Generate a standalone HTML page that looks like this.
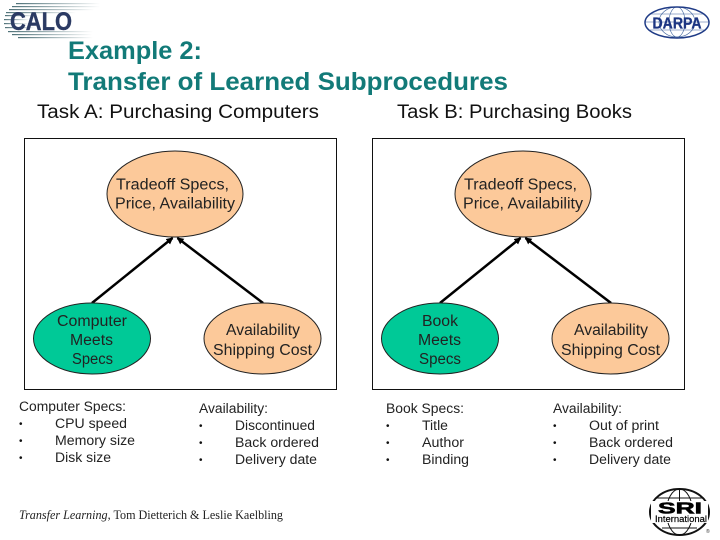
<!DOCTYPE html>
<html><head><meta charset="utf-8"><style>html,body{margin:0;padding:0;background:#fff}svg{display:block}text{font-family:"Liberation Sans",sans-serif;fill:#111}.n{font-size:15.5px;fill:#222}.l{font-size:13.5px;fill:#222}.b{font-size:10px;fill:#111}.m{text-anchor:middle}</style></head><body>
<svg width="720" height="540" viewBox="0 0 720 540" xmlns="http://www.w3.org/2000/svg">
<defs>
<linearGradient id="g"><stop offset="0" stop-color="#4f7178"/><stop offset="1" stop-color="#fff"/></linearGradient>
<marker id="a" markerWidth="7" markerHeight="7" refX="6" refY="3.500" orient="auto" markerUnits="userSpaceOnUse"><path d="M0,0L7,3.500L0,7Z" fill="#000"/></marker>
</defs>
<g fill="url(#g)">
<rect x="16" y="3" width="84" height="1.200"/><rect x="12" y="6" width="88" height="1.200"/><rect x="9" y="9" width="85" height="1.200"/><rect x="6" y="12" width="70" height="1.200"/>
<rect x="5" y="15" width="30" height="1.200"/><rect x="4" y="19" width="25" height="1.200"/><rect x="4" y="23" width="25" height="1.200"/><rect x="5" y="27" width="30" height="1.200"/>
<rect x="8" y="31" width="85" height="1.200"/><rect x="12" y="34" width="80" height="1.200"/><rect x="18" y="37" width="75" height="1.200"/>
</g>
<text x="10" y="30" font-size="25" font-weight="bold" textLength="62" lengthAdjust="spacingAndGlyphs" style="fill:#2b3a63;stroke:#2b3a63;stroke-width:.4">CALO</text>

<g fill="none" stroke="#3a5f9a" stroke-width=".6"><ellipse cx="677" cy="22" rx="18" ry="15"/><ellipse cx="677" cy="22" rx="8" ry="15"/><path d="M645 22H709M650 14H704M650 30H704"/></g>
<ellipse cx="677" cy="22.500" rx="32" ry="15.500" fill="none" stroke="#1f3b86" stroke-width="1.500"/>
<text x="677" y="28.500" class="m" font-size="16" font-weight="bold" textLength="49" lengthAdjust="spacingAndGlyphs" style="fill:#1c3582;stroke:#1c3582;stroke-width:.3">DARPA</text>

<text x="68" y="59" font-size="25" font-weight="bold" textLength="134" lengthAdjust="spacingAndGlyphs" style="fill:#127a78">Example 2:</text>
<text x="68" y="90" font-size="25" font-weight="bold" textLength="440" lengthAdjust="spacingAndGlyphs" style="fill:#127a78">Transfer of Learned Subprocedures</text>
<text x="37" y="118" font-size="19" textLength="282" lengthAdjust="spacingAndGlyphs">Task A:  Purchasing Computers</text>
<text x="397" y="118" font-size="19" textLength="235" lengthAdjust="spacingAndGlyphs">Task B: Purchasing Books</text>

<rect x="24.500" y="138.500" width="312" height="251" fill="#fff" stroke="#111" stroke-width="1"/>
<rect x="372.500" y="138.500" width="312" height="251" fill="#fff" stroke="#111" stroke-width="1"/>

<g stroke="#000" stroke-width="2.500" marker-end="url(#a)">
<path d="M92 303L172.500 238"/><path d="M263 303L177.500 238"/>
<path d="M440 303L520.500 238"/><path d="M611 303L525.500 238"/>
</g>

<g stroke="#222" stroke-width="1">
<ellipse cx="175" cy="194" rx="68" ry="43" fill="#fcc99a"/>
<ellipse cx="523" cy="194" rx="68" ry="43" fill="#fcc99a"/>
<ellipse cx="92" cy="338.500" rx="58.500" ry="35.500" fill="#00c997"/>
<ellipse cx="440" cy="338.500" rx="58.500" ry="35.500" fill="#00c997"/>
<ellipse cx="262.500" cy="338.500" rx="58.500" ry="35.500" fill="#fcc99a"/>
<ellipse cx="610.500" cy="338.500" rx="58.500" ry="35.500" fill="#fcc99a"/>
</g>

<text class="n" x="116" y="189.500" textLength="113" lengthAdjust="spacingAndGlyphs">Tradeoff Specs,</text>
<text class="n" x="115" y="208.500" textLength="120" lengthAdjust="spacingAndGlyphs">Price, Availability</text>
<text class="n" x="464" y="189.500" textLength="113" lengthAdjust="spacingAndGlyphs">Tradeoff Specs,</text>
<text class="n" x="463" y="208.500" textLength="120" lengthAdjust="spacingAndGlyphs">Price, Availability</text>
<text class="n" x="57" y="326" textLength="70" lengthAdjust="spacingAndGlyphs">Computer</text>
<text class="n" x="70" y="345" textLength="43" lengthAdjust="spacingAndGlyphs">Meets</text>
<text class="n" x="72" y="364" textLength="41" lengthAdjust="spacingAndGlyphs">Specs</text>
<text class="n" x="422" y="326" textLength="36" lengthAdjust="spacingAndGlyphs">Book</text>
<text class="n" x="418" y="345" textLength="43" lengthAdjust="spacingAndGlyphs">Meets</text>
<text class="n" x="419" y="364" textLength="42" lengthAdjust="spacingAndGlyphs">Specs</text>
<text class="n" x="226" y="335" textLength="74" lengthAdjust="spacingAndGlyphs">Availability</text>
<text class="n" x="213" y="355" textLength="99" lengthAdjust="spacingAndGlyphs">Shipping Cost</text>
<text class="n" x="574" y="335" textLength="74" lengthAdjust="spacingAndGlyphs">Availability</text>
<text class="n" x="561" y="355" textLength="99" lengthAdjust="spacingAndGlyphs">Shipping Cost</text>

<text class="l" x="19" y="411" textLength="107" lengthAdjust="spacingAndGlyphs">Computer Specs:</text>
<text class="b" x="19" y="427">•</text><text class="l" x="55" y="428" textLength="72" lengthAdjust="spacingAndGlyphs">CPU speed</text>
<text class="b" x="19" y="444">•</text><text class="l" x="55" y="445" textLength="80" lengthAdjust="spacingAndGlyphs">Memory size</text>
<text class="b" x="19" y="461">•</text><text class="l" x="55" y="462" textLength="56" lengthAdjust="spacingAndGlyphs">Disk size</text>

<text class="l" x="199" y="413" textLength="69" lengthAdjust="spacingAndGlyphs">Availability:</text>
<text class="b" x="199" y="429">•</text><text class="l" x="235" y="430" textLength="80" lengthAdjust="spacingAndGlyphs">Discontinued</text>
<text class="b" x="199" y="446">•</text><text class="l" x="235" y="447" textLength="84" lengthAdjust="spacingAndGlyphs">Back ordered</text>
<text class="b" x="199" y="463">•</text><text class="l" x="235" y="464" textLength="82" lengthAdjust="spacingAndGlyphs">Delivery date</text>

<text class="l" x="386" y="413" textLength="78" lengthAdjust="spacingAndGlyphs">Book Specs:</text>
<text class="b" x="386" y="429">•</text><text class="l" x="422" y="430" textLength="26" lengthAdjust="spacingAndGlyphs">Title</text>
<text class="b" x="386" y="446">•</text><text class="l" x="422" y="447" textLength="42" lengthAdjust="spacingAndGlyphs">Author</text>
<text class="b" x="386" y="463">•</text><text class="l" x="422" y="464" textLength="47" lengthAdjust="spacingAndGlyphs">Binding</text>

<text class="l" x="553" y="413" textLength="69" lengthAdjust="spacingAndGlyphs">Availability:</text>
<text class="b" x="553" y="429">•</text><text class="l" x="589" y="430" textLength="70" lengthAdjust="spacingAndGlyphs">Out of print</text>
<text class="b" x="553" y="446">•</text><text class="l" x="589" y="447" textLength="84" lengthAdjust="spacingAndGlyphs">Back ordered</text>
<text class="b" x="553" y="463">•</text><text class="l" x="589" y="464" textLength="82" lengthAdjust="spacingAndGlyphs">Delivery date</text>

<text x="19" y="519" font-size="12.500" textLength="264" lengthAdjust="spacingAndGlyphs" style="font-family:'Liberation Serif',serif;fill:#222"><tspan font-style="italic">Transfer Learning,</tspan> Tom Dietterich &amp; Leslie Kaelbling</text>

<g fill="none" stroke="#111" stroke-width="1">
<ellipse cx="679.500" cy="512" rx="29.500" ry="23" stroke-width="2"/>
<ellipse cx="679.500" cy="512" rx="13" ry="23"/>
<path d="M679.500 489V502M655 498H704M662 528H697"/>
</g>
<path d="M651 501H708V523H651Z" fill="#fff"/>
<text x="680" y="513.500" class="m" font-size="16" font-weight="bold" textLength="44" lengthAdjust="spacingAndGlyphs" style="fill:#000;stroke:#000;stroke-width:.6">SRI</text>
<text x="681" y="522" class="m" font-size="9.500" textLength="52" lengthAdjust="spacingAndGlyphs" style="fill:#000;stroke:#000;stroke-width:.2">International</text>
<text x="706" y="533" font-size="5" style="fill:#333">®</text>
</svg>
</body></html>
